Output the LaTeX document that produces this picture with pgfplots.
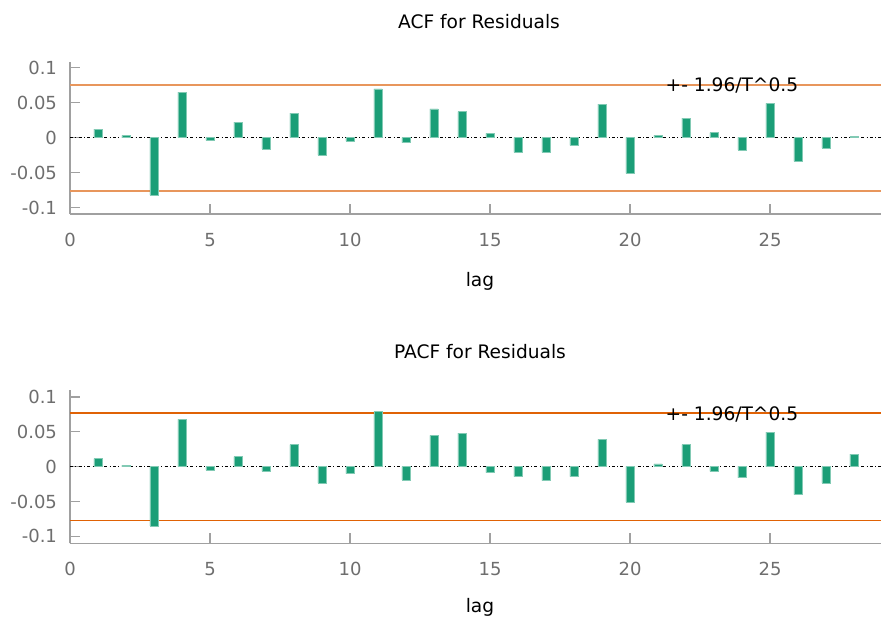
\documentclass[border=0pt]{standalone}
\usepackage{pgfplots}
\pgfplotsset{compat=1.18}
\usepackage{fontspec}
\setmainfont{DejaVu Sans}
\definecolor{barc}{HTML}{1B9E77}
\definecolor{orgA}{HTML}{E8965C}
\definecolor{orgB}{HTML}{E06205}
\definecolor{axgray}{HTML}{A0A0A0}
\definecolor{tkgray}{HTML}{6E6E6E}
\pgfplotsset{myax/.style={
  scale only axis, width=405.5pt, xmin=0, xmax=28.964,
  axis x line*=bottom, axis y line*=left,
  axis line style={axgray, line width=0.6pt},
  xtick={0,5,...,25},
  ytick={-0.1,-0.05,0,0.05,0.1}, yticklabels={-0.1,-0.05,0,0.05,0.1},
  tick style={axgray, line width=0.6pt}, major tick length=5pt, tick align=inside,
  ticklabel style={font=\fontsize{9}{10}\selectfont, text=tkgray},
  /pgf/number format/assume math mode=true,
  xticklabel style={yshift=-6pt},
  yticklabel style={xshift=-3pt},
  clip=false,
}}
\pgfplotstableread{
lag acf pacf
1 0.012 0.0115
2 0.0034 0.0023
3 -0.082 -0.085
4 0.065 0.068
5 -0.004 -0.005
6 0.022 0.0144
7 -0.016 -0.0068
8 0.035 0.0317
9 -0.025 -0.0236
10 -0.005 -0.010
11 0.0696 0.0788
12 -0.007 -0.019
13 0.041 0.045
14 0.037 0.048
15 0.006 -0.0087
16 -0.021 -0.0144
17 -0.021 -0.020
18 -0.011 -0.0144
19 0.048 0.039
20 -0.051 -0.051
21 0.0034 0.0038
22 0.028 0.0317
23 0.007 -0.0068
24 -0.0176 -0.016
25 0.049 0.0495
26 -0.034 -0.040
27 -0.015 -0.0236
28 0.0012 0.0178
}\resid
\begin{document}
\begin{tikzpicture}
\useasboundingbox (0,0) rectangle (440.5pt,309.5pt);
% top: ACF
\begin{axis}[myax, at={(35pt,202.5pt)}, anchor=south west, height=76pt, ymin=-0.109, ymax=0.108]
\addplot[black, line width=0.4pt, dash pattern=on 1.5pt off 1.2pt on 0.4pt off 1.2pt] coordinates {(0,0) (28.964,0)};
\addplot[orgA, line width=0.9pt] coordinates {(0,0.0757) (28.964,0.0757)};
\addplot[orgA, line width=0.9pt] coordinates {(0,-0.0757) (28.964,-0.0757)};
\addplot[ybar, bar width=4.2pt, bar shift=0pt, fill=barc, draw=barc!55!white, line width=0.3pt] table[x=lag, y=acf] {\resid};
\node[font=\fontsize{9.3}{10}\selectfont, text=black] at (axis cs:23.64,0.0745) {+- 1.96/T\textasciicircum 0.5};
\end{axis}
% bottom: PACF
\begin{axis}[myax, at={(35pt,37.85pt)}, anchor=south west, height=76.65pt, ymin=-0.110, ymax=0.110]
\addplot[black, line width=0.4pt, dash pattern=on 1.5pt off 1.2pt on 0.4pt off 1.2pt] coordinates {(0,0) (28.964,0)};
\addplot[orgB, line width=0.75pt] coordinates {(0,0.0768) (28.964,0.0768)};
\addplot[orgB, line width=0.75pt] coordinates {(0,-0.0775) (28.964,-0.0775)};
\addplot[ybar, bar width=4.2pt, bar shift=0pt, fill=barc, draw=barc!55!white, line width=0.3pt] table[x=lag, y=pacf] {\resid};
\node[font=\fontsize{9.3}{10}\selectfont, text=black] at (axis cs:23.64,0.0755) {+- 1.96/T\textasciicircum 0.5};
\end{axis}
\node[font=\fontsize{9.3}{10}\selectfont] at (239.5pt,298.5pt) {ACF for Residuals};
\node[font=\fontsize{9.3}{10}\selectfont] at (240pt,133.5pt) {PACF for Residuals};
\node[font=\fontsize{9.3}{10}\selectfont] at (240pt,169pt) {lag};
\node[font=\fontsize{9.3}{10}\selectfont] at (240pt,6pt) {lag};
\end{tikzpicture}
\end{document}
